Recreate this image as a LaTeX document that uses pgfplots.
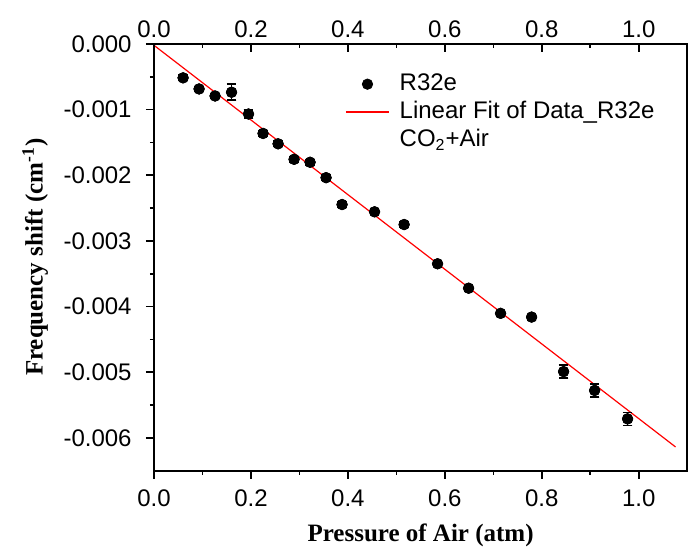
\documentclass[border=0pt]{standalone}
\usepackage{pgfplots}
\pgfplotsset{compat=1.18}
\usepackage{fontspec}
\setmainfont{Liberation Sans}
\newfontfamily\serifbf{Liberation Serif}
\pgfplotstableread{
x y e
0.060 -0.000516 0.00004
0.093 -0.000685 0.00004
0.126 -0.000792 0.00004
0.160 -0.000735 0.000122
0.195 -0.001067 0.00006
0.225 -0.001363 0.00004
0.256 -0.001521 0.00004
0.289 -0.001757 0.00004
0.322 -0.001802 0.00004
0.355 -0.002037 0.00004
0.388 -0.002446 0.00004
0.455 -0.002557 0.00004
0.516 -0.002751 0.00004
0.585 -0.003349 0.00004
0.649 -0.003721 0.00004
0.715 -0.004104 0.00004
0.779 -0.004161 0.00004
0.845 -0.004992 0.0001
0.909 -0.005279 0.0001
0.977 -0.005712 0.0001
}\datatable
\pgfplotsset{
  markleg/.style={legend image code/.code={\draw[mark repeat=2,mark phase=2,##1] plot coordinates {(0pt,0pt) (10.75pt,0pt) (21.5pt,0pt)};}},
  lineleg/.style={legend image code/.code={\draw[red, line width=0.7pt] (0pt,0pt) -- (21.5pt,0pt);}},
  emptyleg/.style={legend image code/.code={\path (0pt,0pt) -- (21.5pt,0pt);}},
  ptsstyle/.style={only marks, mark=*, black, mark size=2.6pt, markleg,
    error bars/y dir=both, error bars/y explicit,
    error bars/error bar style={black, line width=0.8pt},
    error bars/error mark options={black, rotate=90, mark size=2.4pt, line width=0.8pt}},
  common/.style={
    scale only axis, width=266.6pt, height=213.3pt,
    xmin=0, xmax=1.1, ymin=-0.0065, ymax=0,
    axis line style={line width=1pt},
    every tick/.style={black, line width=0.8pt},
    major tick length=4pt, minor tick length=2pt,
    xtick={0,0.2,0.4,0.6,0.8,1.0}, minor x tick num=1,
    /pgf/number format/assume math mode=true,
    tick label style={font=\fontsize{12}{14.4}\selectfont},
    xticklabel style={/pgf/number format/fixed, /pgf/number format/fixed zerofill, /pgf/number format/precision=1},
  }
}
\begin{document}
\fontsize{12}{14.4}\selectfont
\begin{tikzpicture}
\begin{axis}[common,
  xtick pos=lower, ytick pos=left, tick align=outside,
  xticklabel style={yshift=-1.5pt},
  ytick={-0.006,-0.005,-0.004,-0.003,-0.002,-0.001,0}, minor y tick num=1,
  scaled y ticks=false,
  yticklabel style={/pgf/number format/fixed, /pgf/number format/fixed zerofill, /pgf/number format/precision=3, xshift=-3pt},
  xlabel={\serifbf\bfseries Pressure of Air (atm)},
  xlabel style={at={(axis description cs:0.5,-0.152)}, anchor=center, font=\fontsize{12.5}{15}\selectfont},
  ylabel={\serifbf\bfseries Frequency shift (cm\textsuperscript{-1})},
  ylabel style={at={(axis description cs:-0.223,0.5)}, anchor=center, font=\fontsize{12.5}{15}\selectfont},
  legend style={at={(0.358,0.94)}, anchor=north west, draw=none, fill=none, inner sep=0pt,
    font=\fontsize{12}{14.4}\selectfont, row sep=-0.5pt,
    /tikz/every odd column/.append style={column sep=3pt}},
  legend cell align=left,
]
\coordinate (SW) at (rel axis cs:0,0);
\coordinate (NE) at (rel axis cs:1,1);
\addplot[ptsstyle] table[x=x, y=y, y error=e] {\datatable};
\addlegendentry{R32e}
\addplot[red, line width=0.6pt, lineleg] coordinates {(0,-0.00002) (1.076,-0.00614)};
\addlegendentry{Linear Fit of Data\_R32e}
\addplot[draw=none, emptyleg] coordinates {(0.5,-0.003)};
\addlegendentry{CO\textsubscript{2}+Air}
\addplot[forget plot, ptsstyle] table[x=x, y=y, y error=e] {\datatable};
\end{axis}
\begin{axis}[common,
  axis x line*=top, axis y line=none, tick align=inside,
  xticklabel pos=upper,
  xticklabel style={yshift=-1pt},
]
\end{axis}
\pgfresetboundingbox
\path[use as bounding box] ([xshift=-77pt,yshift=-38.2pt]SW) rectangle ([xshift=1.4pt,yshift=22pt]NE);
\end{tikzpicture}
\end{document}
